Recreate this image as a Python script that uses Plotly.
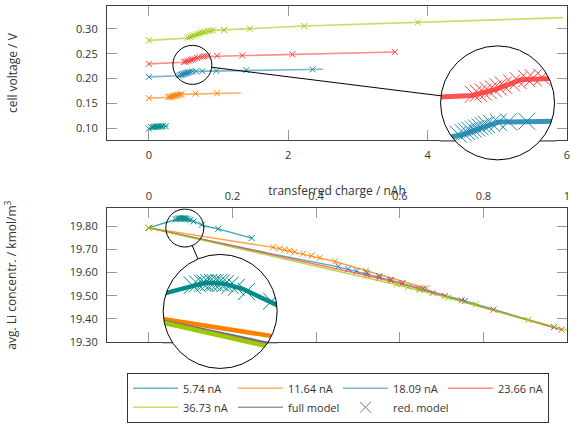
import math
import plotly.graph_objects as go

# ---------------------------------------------------------------- data
series_names = ["5.74 nA", "11.64 nA", "18.09 nA", "23.66 nA", "36.73 nA"]
series_colors = ["#008b8b", "#ff8000", "#2288b0", "#ff4040", "#99cc00"]

# top panel: cell voltage / V vs transferred charge / nAh
v574_full_q = [0, 0.08, 0.28]
v574_full_v = [0.100, 0.1035, 0.1052]
v574_red_q = [0, 0.04, 0.06, 0.08, 0.10, 0.12, 0.14, 0.16, 0.18, 0.20, 0.24]
v574_red_v = [0.100, 0.1025, 0.103, 0.1035, 0.104, 0.104, 0.1042, 0.1045, 0.1045, 0.105, 0.105]

v1164_full_q = [0, 0.27, 0.47, 0.67, 0.98, 1.32]
v1164_full_v = [0.161, 0.1625, 0.1686, 0.1698, 0.1705, 0.1712]
v1164_red_q = [0, 0.28, 0.30, 0.32, 0.34, 0.36, 0.38, 0.40, 0.42, 0.445, 0.47, 0.67, 0.98]
v1164_red_v = [0.161, 0.163, 0.1635, 0.164, 0.1648, 0.1655, 0.1663, 0.167, 0.1677, 0.1682, 0.1686, 0.170, 0.1705]

v1809_full_q = [0, 0.40, 0.45, 0.63, 0.97, 1.40, 2.35, 2.50]
v1809_full_v = [0.2035, 0.2045, 0.2058, 0.2145, 0.2152, 0.2170, 0.2185, 0.2187]
v1809_red_q = [0, 0.432, 0.456, 0.473, 0.489, 0.506, 0.522, 0.539, 0.555, 0.571, 0.596, 0.628,
               0.678, 0.768, 0.97, 1.40, 2.35]
v1809_red_v = [0.2035, 0.2062, 0.2072, 0.2080, 0.2088, 0.2096, 0.2104, 0.2112, 0.2120, 0.2127,
               0.2135, 0.2143, 0.2147, 0.2150, 0.2155, 0.2170, 0.2185]

v2366_full_q = [0, 0.35, 0.50, 0.62, 0.74, 0.98, 1.34, 2.06, 3.53]
v2366_full_v = [0.2295, 0.2315, 0.2327, 0.2370, 0.2435, 0.2448, 0.2462, 0.2486, 0.2533]
v2366_red_q = [0, 0.506, 0.530, 0.555, 0.579, 0.604, 0.628, 0.653, 0.694, 0.726, 0.768, 0.800,
               0.842, 0.98, 1.34, 2.06, 3.53]
v2366_red_v = [0.2295, 0.2335, 0.2342, 0.2350, 0.2360, 0.2372, 0.2385, 0.2398, 0.2412, 0.2428,
               0.2442, 0.2448, 0.2452, 0.2458, 0.2463, 0.2486, 0.2533]

v3673_full_q = [0, 0.55, 0.92, 1.08, 1.45, 2.23, 3.86, 5.94]
v3673_full_v = [0.2766, 0.2810, 0.2966, 0.2973, 0.3000, 0.3052, 0.3126, 0.3220]
v3673_red_q = [0, 0.56, 0.59, 0.62, 0.65, 0.68, 0.71, 0.74, 0.77, 0.80, 0.84, 0.88, 0.92,
               1.08, 1.45, 2.23, 3.86]
v3673_red_v = [0.2766, 0.2820, 0.2835, 0.2850, 0.2865, 0.2880, 0.2895, 0.2910, 0.2925, 0.2940,
               0.2950, 0.2960, 0.2966, 0.2973, 0.3000, 0.3052, 0.3126]

# bottom panel: avg. Li concentration / kmol/m3 vs transferred charge / nAh
c574_full_q = [0, 0.041, 0.060, 0.075, 0.090, 0.105, 0.131, 0.166, 0.246]
c574_full_c = [19.792, 19.817, 19.826, 19.833, 19.831, 19.823, 19.801, 19.788, 19.748]
c574_red_q = [0, 0.064, 0.068, 0.072, 0.074, 0.077, 0.080, 0.082, 0.085, 0.087, 0.090, 0.094,
              0.099, 0.107, 0.127, 0.166, 0.246]
c574_red_c = [19.792, 19.829, 19.831, 19.832, 19.832, 19.833, 19.833, 19.833, 19.833, 19.832,
              19.831, 19.829, 19.826, 19.820, 19.806, 19.788, 19.748]

c1164_full_q = [0, 0.297, 0.445, 0.52, 0.665]
c1164_full_c = [19.792, 19.708, 19.647, 19.607, 19.531]
c1164_red_q = [0, 0.297, 0.313, 0.325, 0.337, 0.349, 0.369, 0.389, 0.409, 0.445, 0.519, 0.664]
c1164_red_c = [19.792, 19.708, 19.703, 19.699, 19.694, 19.689, 19.681, 19.673, 19.664, 19.647,
               19.607, 19.532]

c1809_full_q = [0, 0.30, 0.453, 0.58, 0.756, 0.969]
c1809_full_c = [19.792, 19.678, 19.624, 19.566, 19.477, 19.364]
c1809_red_q = [0, 0.453, 0.477, 0.497, 0.521, 0.551, 0.58, 0.607, 0.656, 0.756, 0.969]
c1809_red_c = [19.792, 19.626, 19.615, 19.607, 19.598, 19.584, 19.567, 19.555, 19.531, 19.477,
               19.365]

c2366_full_q = [0, 0.30, 0.522, 0.604, 0.708, 0.824, 0.987]
c2366_full_c = [19.792, 19.673, 19.587, 19.551, 19.498, 19.439, 19.353]
c2366_red_q = [0, 0.522, 0.551, 0.577, 0.604, 0.647, 0.679, 0.708, 0.748, 0.824, 0.987]
c2366_red_c = [19.792, 19.588, 19.577, 19.567, 19.552, 19.531, 19.512, 19.499, 19.480, 19.440,
               19.354]

c3673_full_q = [0, 0.30, 0.593, 0.716, 0.907, 1.0]
c3673_full_c = [19.792, 19.669, 19.547, 19.491, 19.395, 19.352]
c3673_red_q = [0, 0.593, 0.620, 0.648, 0.716, 0.782, 0.907]
c3673_red_c = [19.792, 19.548, 19.537, 19.525, 19.492, 19.463, 19.396]

top_q_ticks = [0, 2, 4, 6]
volt_ticks = [0.10, 0.15, 0.20, 0.25, 0.30]
bot_q_ticks = [0, 0.2, 0.4, 0.6, 0.8, 1]
bot_q_ticktext = ["0", "0.2", "0.4", "0.6", "0.8", "1"]
conc_ticks = [19.30, 19.40, 19.50, 19.60, 19.70, 19.80]

volt_full = [(v574_full_q, v574_full_v), (v1164_full_q, v1164_full_v), (v1809_full_q, v1809_full_v),
             (v2366_full_q, v2366_full_v), (v3673_full_q, v3673_full_v)]
volt_red = [(v574_red_q, v574_red_v), (v1164_red_q, v1164_red_v), (v1809_red_q, v1809_red_v),
            (v2366_red_q, v2366_red_v), (v3673_red_q, v3673_red_v)]
conc_full = [(c574_full_q, c574_full_c), (c1164_full_q, c1164_full_c), (c1809_full_q, c1809_full_c),
             (c2366_full_q, c2366_full_c), (c3673_full_q, c3673_full_c)]
conc_red = [(c574_red_q, c574_red_c), (c1164_red_q, c1164_red_c), (c1809_red_q, c1809_red_c),
            (c2366_red_q, c2366_red_c), (c3673_red_q, c3673_red_c)]

# ---------------------------------------------------------------- geometry
W, H = 571, 426
ML, MR, MT, MB = 107, 3.5, 5.5, 0
PW = W - ML - MR
PH = H - MT - MB

def pxx(px):
    return (px - ML) / PW

def pxy(py):
    return (H - MB - py) / PH

TOP_PY = (5.5, 140.0)
BOT_PY = (208.0, 342.0)
top_xr = [-0.6, 6.0]
top_yr = [0.0766, 0.3453]
bot_xr = [-0.1, 1.0]
bot_yr = [19.30, 19.8765]

def d2px(x, y, xr, yr, pyr):
    px = ML + (x - xr[0]) / (xr[1] - xr[0]) * PW
    py = pyr[1] - (y - yr[0]) / (yr[1] - yr[0]) * (pyr[1] - pyr[0])
    return px, py

# zoom circles: small (data centre, px radius) and large (px centre, px radius);
# cut_top = px trimmed from the top of the inset box (keeps main lines there visible)
zooms = [
    dict(c=(0.625, 0.2276), r=19.5, C=(498.0, 102.5), R=57.0, cut_top=0.0,
         xr=top_xr, yr=top_yr, pyr=TOP_PY, ax="x", ay="y"),
    dict(c=(0.0861, 19.7914), r=19.0, C=(220.3, 311.3), R=57.0, cut_top=8.0,
         xr=bot_xr, yr=bot_yr, pyr=BOT_PY, ax="x2", ay="y2"),
]
for z in zooms:
    ppx = PW / (z["xr"][1] - z["xr"][0])
    ppy = (z["pyr"][1] - z["pyr"][0]) / (z["yr"][1] - z["yr"][0])
    mag = z["R"] / z["r"]
    Cx, Cy, R = z["C"][0], z["C"][1], z["R"]
    bx0, bx1 = Cx - R, Cx + R
    by_top, by_bot = Cy - R + z["cut_top"], Cy + R
    z["box"] = (bx0, bx1, by_top, by_bot)
    z["irx"] = [z["c"][0] + (bx0 - Cx) / (mag * ppx), z["c"][0] + (bx1 - Cx) / (mag * ppx)]
    z["iry"] = [z["c"][1] - (by_bot - Cy) / (mag * ppy), z["c"][1] - (by_top - Cy) / (mag * ppy)]
    z["dx"] = [pxx(bx0), pxx(bx1)]
    z["dy"] = [pxy(by_bot), pxy(by_top)]

FONT = "Open Sans"
TXT = "#333333"
FRAME = "#404040"
TICKC = "#999999"

fig = go.Figure()

def add_series(full, red, xa, ya, lw, ms, mlw, line_opacity, legend):
    for i, ((fq, fv), (rq, rv)) in enumerate(zip(full, red)):
        col = series_colors[i]
        fig.add_trace(go.Scatter(x=fq, y=fv, mode="lines", xaxis=xa, yaxis=ya,
                                 line=dict(color=col, width=lw), opacity=line_opacity,
                                 name=series_names[i], showlegend=legend, hoverinfo="skip"))
        fig.add_trace(go.Scatter(x=rq, y=rv, mode="markers", xaxis=xa, yaxis=ya,
                                 marker=dict(symbol="x-thin", size=ms,
                                             line=dict(color=col, width=mlw)),
                                 showlegend=False, hoverinfo="skip"))

add_series(volt_full, volt_red, "x", "y", 1.6, 6, 1.0, 0.6, True)
add_series(conc_full, conc_red, "x2", "y2", 1.4, 6, 1.0, 0.75, False)
add_series(volt_full, volt_red, "x3", "y3", 5, 17, 1.0, 0.9, False)
add_series(conc_full, conc_red, "x4", "y4", 4.5, 17, 1.0, 1.0, False)

# legend-only entries
fig.add_trace(go.Scatter(x=[None], y=[None], mode="lines", name="full model",
                         line=dict(color="#999999", width=1.4)))
fig.add_trace(go.Scatter(x=[None], y=[None], mode="markers", name="red. model",
                         marker=dict(symbol="x-thin", size=11, line=dict(color="#777777", width=1))))

axis_common = dict(showgrid=False, zeroline=False, showline=True, linecolor=FRAME, linewidth=1.2,
                   mirror="ticks", ticks="inside", ticklen=10, tickcolor=TICKC, tickwidth=1.3,
                   automargin=False, tickfont=dict(family=FONT, size=11, color=TXT))

fig.update_layout(
    xaxis=dict(axis_common, domain=[0, 1], anchor="y", range=top_xr, tickvals=top_q_ticks,
               side="bottom", ticklabelstandoff=4,
               title=dict(text="transferred charge / nAh", standoff=25,
                          font=dict(family=FONT, size=12, color=TXT))),
    yaxis=dict(axis_common, domain=[pxy(TOP_PY[1]), pxy(TOP_PY[0])], anchor="x", range=top_yr,
               tickvals=volt_ticks, tickformat=".2f", ticklabelstandoff=6,
               title=dict(text="cell voltage / V", standoff=55,
                          font=dict(family=FONT, size=12, color=TXT))),
    xaxis2=dict(axis_common, domain=[0, 1], anchor="y2", range=bot_xr, tickvals=bot_q_ticks,
                ticktext=bot_q_ticktext, side="top", ticklabelstandoff=3),
    yaxis2=dict(axis_common, domain=[pxy(BOT_PY[1]), pxy(BOT_PY[0])], anchor="x2", range=bot_yr,
                tickvals=conc_ticks, tickformat=".2f", ticklabelstandoff=6,
                title=dict(text="avg. Li concentr. / kmol/m<sup>3</sup>", standoff=50,
                           font=dict(family=FONT, size=12, color=TXT))),
)
for k, z in zip((3, 4), zooms):
    hidden = dict(visible=False, showgrid=False, zeroline=False, fixedrange=True, automargin=False)
    fig.layout["xaxis%d" % k] = dict(hidden, domain=z["dx"], range=z["irx"], anchor="y%d" % k)
    fig.layout["yaxis%d" % k] = dict(hidden, domain=z["dy"], range=z["iry"], anchor="x%d" % k)

# ---------------------------------------------------------------- zoom decoration
shapes = []
KAPPA = 0.5523

def mask_path(R, box, C):
    kR = KAPPA * R
    # outer rectangle = inset box (pixel offsets from the circle centre, y up)
    l, r_ = box[0] - C[0] - 0.6, box[1] - C[0] + 0.6
    t, b = C[1] - box[2], C[1] - box[3] - 0.6
    return (f"M{l},{b} L{r_},{b} L{r_},{t} L{l},{t} Z "
            f"M{R},0 C{R},{kR} {kR},{R} 0,{R} C{-kR},{R} {-R},{kR} {-R},0 "
            f"C{-R},{-kR} {-kR},{-R} 0,{-R} C{kR},{-R} {R},{-kR} {R},0 Z")

for z in zooms:
    cxp, cyp = pxx(z["C"][0]), pxy(z["C"][1])
    shapes.append(dict(type="path", xref="paper", yref="paper", xsizemode="pixel",
                       ysizemode="pixel", xanchor=cxp, yanchor=cyp,
                       path=mask_path(z["R"], z["box"], z["C"]), fillcolor="white",
                       fillrule="evenodd", line=dict(width=0), layer="above"))

# restore the panel frame segments that the mask covered (outside the circle)
for z in zooms:
    fy = z["pyr"][1] + 0.6
    dyy = fy - z["C"][1]
    if abs(dyy) < z["R"]:
        half = math.sqrt(z["R"] ** 2 - dyy ** 2)
        for a, b in ((z["C"][0] - z["R"] - 1, z["C"][0] - half),
                     (z["C"][0] + half, z["C"][0] + z["R"] + 1)):
            shapes.append(dict(type="line", xref="paper", yref="paper", x0=pxx(a), x1=pxx(b),
                               y0=pxy(fy), y1=pxy(fy), line=dict(color=FRAME, width=1.2),
                               layer="above"))

for z in zooms:
    # small circle in data space
    shapes.append(dict(type="circle", xref=z["ax"], yref=z["ay"], xsizemode="pixel",
                       ysizemode="pixel", xanchor=z["c"][0], yanchor=z["c"][1],
                       x0=-z["r"], x1=z["r"], y0=-z["r"], y1=z["r"],
                       line=dict(color="black", width=1), layer="above"))
    # large circle
    shapes.append(dict(type="circle", xref="paper", yref="paper", xsizemode="pixel",
                       ysizemode="pixel", xanchor=pxx(z["C"][0]), yanchor=pxy(z["C"][1]),
                       x0=-z["R"], x1=z["R"], y0=-z["R"], y1=z["R"],
                       line=dict(color="black", width=1), layer="above"))
    # connector along the line of centres
    sx, sy = d2px(z["c"][0], z["c"][1], z["xr"], z["yr"], z["pyr"])
    Lx, Ly = z["C"]
    d = math.hypot(Lx - sx, Ly - sy)
    ux, uy = (Lx - sx) / d, (Ly - sy) / d
    shapes.append(dict(type="line", xref="paper", yref="paper",
                       x0=pxx(sx + ux * z["r"]), y0=pxy(sy + uy * z["r"]),
                       x1=pxx(Lx - ux * z["R"]), y1=pxy(Ly - uy * z["R"]),
                       line=dict(color="black", width=1), layer="above"))

fig.update_layout(
    shapes=shapes,
    width=W, height=H,
    margin=dict(l=ML, r=MR, t=MT, b=MB, pad=0, autoexpand=False),
    paper_bgcolor="white", plot_bgcolor="white",
    font=dict(family=FONT, size=11, color=TXT),
    legend=dict(orientation="h", x=pxx(127), y=pxy(372.7), xanchor="left", yanchor="top",
                bordercolor="#333333", borderwidth=1, bgcolor="white",
                font=dict(family=FONT, size=11, color=TXT),
                itemwidth=45, entrywidth=45, tracegroupgap=0),
)

fig.write_html("out.html", config={"displayModeBar": False},
               post_script="document.body.style.margin='0';document.body.style.overflow='hidden';")
